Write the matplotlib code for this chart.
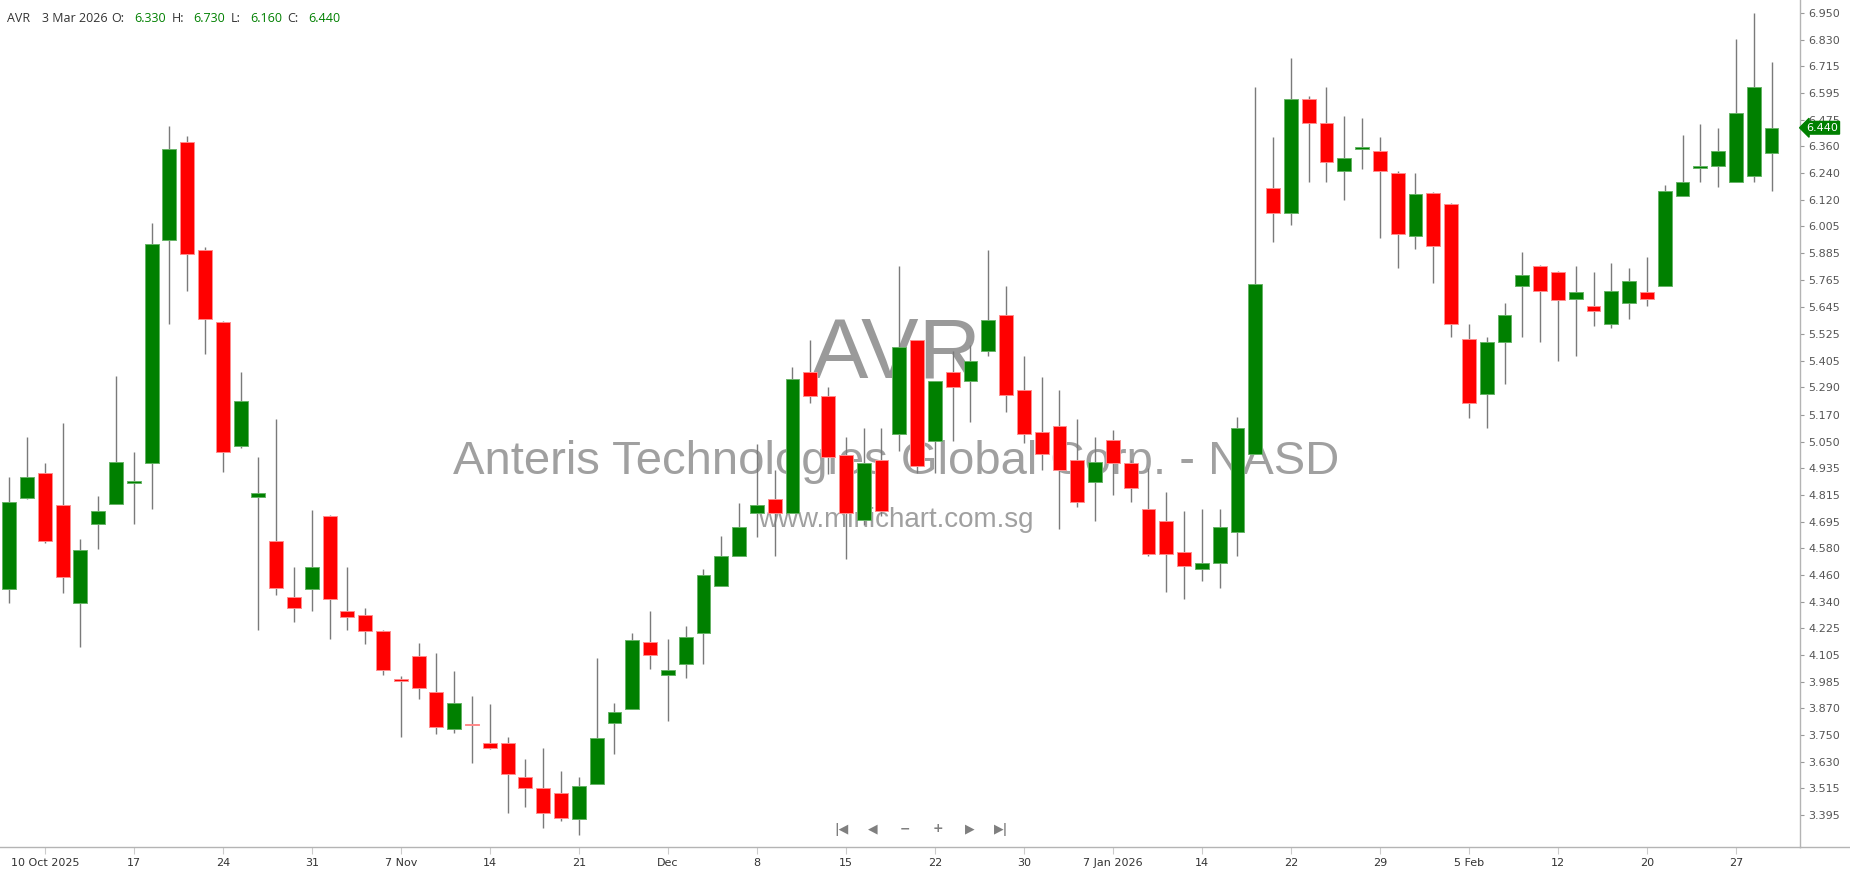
import numpy as np
import matplotlib
matplotlib.use("Agg")
import matplotlib.pyplot as plt
import matplotlib.transforms as mtransforms
from matplotlib.lines import Line2D

# AVR daily bars, one per trading day from 8 Oct 2025 to 3 Mar 2026
opens = [4.398, 4.799, 4.909, 4.771, 4.336, 4.684, 4.772, 4.866, 4.956, 5.941,
         6.376, 5.900, 5.579, 5.032, 4.805, 4.610, 4.360, 4.397, 4.720, 4.300,
         4.283, 4.211, 3.996, 4.100, 3.940, 3.777, 3.801, 3.714, 3.714, 3.563,
         3.514, 3.492, 3.379, 3.533, 3.802, 3.866, 4.161, 4.015, 4.065, 4.202,
         4.412, 4.545, 4.735, 4.797, 4.734, 5.357, 5.252, 4.992, 4.703, 4.970,
         5.082, 5.501, 5.053, 5.357, 5.320, 5.453, 5.611, 5.279, 5.091, 5.119,
         4.968, 4.873, 5.057, 4.956, 4.750, 4.698, 4.560, 4.486, 4.513, 4.651,
         4.995, 6.175, 6.063, 6.569, 6.462, 6.250, 6.346, 6.337, 6.238, 5.962,
         6.149, 6.101, 5.503, 5.259, 5.491, 5.741, 5.828, 5.800, 5.680, 5.650,
         5.571, 5.664, 5.711, 5.741, 6.139, 6.263, 6.272, 6.200, 6.228, 6.330]
highs = [4.892, 5.071, 4.954, 5.131, 4.617, 4.810, 5.341, 5.004, 6.017, 6.447,
         6.402, 5.910, 5.582, 5.358, 4.981, 5.150, 4.495, 4.749, 4.726, 4.493,
         4.312, 4.216, 4.012, 4.157, 4.112, 4.035, 3.923, 3.886, 3.742, 3.643,
         3.691, 3.593, 3.563, 4.090, 3.891, 4.201, 4.300, 4.174, 4.235, 4.484,
         4.632, 4.777, 5.038, 4.924, 5.379, 5.500, 5.290, 5.069, 5.109, 5.109,
         5.828, 5.501, 5.317, 5.451, 5.476, 5.899, 5.738, 5.428, 5.336, 5.279,
         5.150, 5.069, 5.101, 4.970, 4.932, 4.829, 4.742, 4.750, 4.750, 5.157,
         6.620, 6.398, 6.747, 6.580, 6.620, 6.490, 6.485, 6.399, 6.248, 6.238,
         6.154, 6.105, 5.569, 5.512, 5.662, 5.888, 5.832, 5.806, 5.828, 5.800,
         5.840, 5.817, 5.866, 6.186, 6.408, 6.458, 6.437, 6.835, 6.947, 6.730]
lows = [4.336, 4.794, 4.600, 4.378, 4.142, 4.574, 4.772, 4.684, 4.751, 5.569,
        5.717, 5.436, 4.917, 5.023, 4.215, 4.369, 4.252, 4.301, 4.174, 4.214,
        4.152, 4.015, 3.743, 3.909, 3.755, 3.758, 3.628, 3.687, 3.407, 3.433,
        3.340, 3.368, 3.306, 3.533, 3.666, 3.866, 4.041, 3.814, 4.003, 4.065,
        4.412, 4.545, 4.629, 4.545, 4.734, 5.222, 4.906, 4.529, 4.680, 4.720,
        5.010, 4.910, 4.910, 5.053, 5.135, 5.431, 5.181, 5.044, 4.924, 4.661,
        4.762, 4.700, 4.812, 4.782, 4.545, 4.386, 4.355, 4.434, 4.402, 4.545,
        4.995, 5.933, 6.008, 6.201, 6.201, 6.122, 6.256, 5.950, 5.817, 5.901,
        5.751, 5.515, 5.156, 5.109, 5.304, 5.512, 5.491, 5.407, 5.430, 5.563,
        5.552, 5.592, 5.652, 5.741, 6.139, 6.200, 6.176, 6.200, 6.198, 6.160]
closes = [4.782, 4.892, 4.611, 4.452, 4.572, 4.743, 4.959, 4.870, 5.927, 6.348,
          5.880, 5.591, 5.004, 5.229, 4.821, 4.403, 4.313, 4.493, 4.351, 4.275,
          4.213, 4.037, 3.990, 3.959, 3.787, 3.891, 3.793, 3.693, 3.578, 3.517,
          3.407, 3.384, 3.525, 3.736, 3.851, 4.171, 4.103, 4.040, 4.185, 4.461,
          4.543, 4.670, 4.771, 4.734, 5.329, 5.253, 4.983, 4.734, 4.954, 4.744,
          5.468, 4.944, 5.317, 5.293, 5.405, 5.589, 5.255, 5.082, 4.994, 4.923,
          4.782, 4.958, 4.957, 4.845, 4.552, 4.552, 4.497, 4.513, 4.671, 5.109,
          5.750, 6.063, 6.569, 6.462, 6.289, 6.307, 6.350, 6.248, 5.968, 6.148,
          5.918, 5.569, 5.219, 5.490, 5.612, 5.788, 5.717, 5.679, 5.711, 5.628,
          5.717, 5.760, 5.682, 6.158, 6.198, 6.268, 6.336, 6.507, 6.619, 6.440]

# x labels sit on every 5th bar, starting with the 3rd bar (10 Oct)
xtick_labels = ['10 Oct 2025', '17', '24', '31', '7 Nov', '14', '21', 'Dec', '8', '15',
                '22', '30', '7 Jan 2026', '14', '22', '29', '5 Feb', '12', '20', '27']
first_tick = 2
ytick_labels = ['3.395', '3.515', '3.630', '3.750', '3.870', '3.985', '4.105', '4.225',
                '4.340', '4.460', '4.580', '4.695', '4.815', '4.935', '5.050', '5.170',
                '5.290', '5.405', '5.525', '5.645', '5.765', '5.885', '6.005', '6.120',
                '6.240', '6.360', '6.475', '6.595', '6.715', '6.830', '6.950']

symbol = 'AVR'
last_date = '3 Mar 2026'
company = 'Anteris Technologies Global Corp. - NASD'
site = 'www.minichart.com.sg'

UP = '#008000'
DOWN = '#ff0000'
W, H = 1850, 874

o = np.array(opens)
h = np.array(highs)
l = np.array(lows)
c = np.array(closes)
idx = np.arange(len(o))
up = c >= o

fig = plt.figure(figsize=(W / 100, H / 100), dpi=100)
ax = fig.add_axes([0, 27 / H, 1800 / W, 1 - 27 / H])

# wicks then bodies
ax.vlines(idx, l, h, color='#7a7a7a', lw=1.0, zorder=2)
bottom = np.minimum(o, c)
height = np.maximum(np.abs(c - o), 0.008)
ax.bar(idx[up], height[up], bottom=bottom[up], width=0.78, color=UP,
       edgecolor='#66b366', lw=0.7, zorder=3)
ax.bar(idx[~up], height[~up], bottom=bottom[~up], width=0.78, color=DOWN,
       edgecolor='#ff8c8c', lw=0.7, zorder=3)

ax.set_xlim(-0.517, 100.6)
ax.set_ylim(3.2547, 7.0058)

# watermark, behind candles
ax.text(896 / 1800, 1 - 356 / 847, symbol, transform=ax.transAxes, ha='center', va='center',
        fontsize=62, color='#9a9a9a', family='Liberation Sans', zorder=1)
ax.text(896 / 1800, 1 - 462 / 847, company, transform=ax.transAxes, ha='center', va='center',
        fontsize=34, color='#a0a0a0', family='Liberation Sans', zorder=1)
ax.text(896 / 1800, 1 - 520 / 847, site, transform=ax.transAxes, ha='center', va='center',
        fontsize=20, color='#a0a0a0', family='Liberation Sans', zorder=1)

# axes styling
for s in ['top', 'left']:
    ax.spines[s].set_visible(False)
for s in ['bottom', 'right']:
    ax.spines[s].set_color('#b4b4b4')
    ax.spines[s].set_linewidth(1.0)
fig.add_artist(Line2D([1800 / W, 1], [27 / H, 27 / H], color='#b4b4b4', lw=1.0,
                      transform=fig.transFigure))

ax.yaxis.tick_right()
ax.set_yticks([float(v) for v in ytick_labels])
ax.set_yticklabels(ytick_labels)
ax.tick_params(axis='y', length=3, width=0.8, color='#999999', pad=3,
               labelsize=8, labelcolor='#555555')
ax.set_xticks(first_tick + 5 * np.arange(len(xtick_labels)))
ax.set_xticklabels(xtick_labels)
ax.tick_params(axis='x', length=5, width=0.8, color='#cccccc', pad=3,
               labelsize=8, labelcolor='#333333')

# last price marker on the price axis
trans = mtransforms.blended_transform_factory(ax.transAxes, ax.transData)
ax.text(1.0035, c[-1], f'{c[-1]:.3f}', transform=trans, ha='left', va='center',
        color='white', fontsize=8,
        bbox=dict(boxstyle='larrow,pad=0.12', fc=UP, ec=UP), clip_on=False, zorder=10)

# header line
hy = 1 - 18 / H
parts = [(6.7, symbol, '#333333'), (41.7, last_date, '#333333'),
         (111.7, 'O:', '#333333'), (134, f'{o[-1]:.3f}', UP),
         (172, 'H:', '#333333'), (193, f'{h[-1]:.3f}', UP),
         (231, 'L:', '#333333'), (250, f'{l[-1]:.3f}', UP),
         (287, 'C:', '#333333'), (308, f'{c[-1]:.3f}', UP)]
for px, txt, col in parts:
    fig.text(px / W, hy, txt, ha='left', va='center', fontsize=9, color=col,
             family='Open Sans')

# navigation buttons
ny = 1 - 829 / H
for px, txt in [(841, '|◀'), (873, '◀'), (905, '−'), (938, '+'), (970, '▶'), (1001, '▶|')]:
    fig.text(px / W, ny, txt, ha='center', va='center', fontsize=9, color='#7f7f7f',
             family='DejaVu Sans', fontweight='bold')

fig.savefig('out.png', dpi=100)
